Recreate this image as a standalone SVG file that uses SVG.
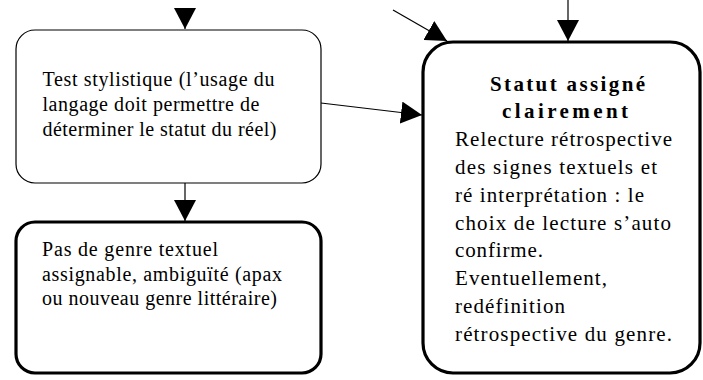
<svg xmlns="http://www.w3.org/2000/svg" width="703" height="380" viewBox="0 0 703 380">
  <defs>
    <marker id="arrow" markerUnits="userSpaceOnUse" markerWidth="21" markerHeight="22" refX="21" refY="11" orient="auto" viewBox="0 0 21 22">
      <path d="M0,0 L21,11 L0,22 z" fill="#000000"/>
    </marker>
  </defs>
  <rect width="703" height="380" fill="#ffffff"/>

  <g id="connectors" stroke="#000000" stroke-width="1.2" fill="none" marker-end="url(#arrow)">
    <line x1="185" y1="8" x2="185" y2="29"/>
    <line x1="185" y1="183" x2="185" y2="221"/>
    <line x1="321" y1="103" x2="422" y2="115"/>
    <line x1="393" y1="10" x2="447" y2="41"/>
    <line x1="568" y1="0" x2="568" y2="41"/>
  </g>

  <g id="node-test">
    <rect x="16" y="30" width="305" height="153" rx="19" ry="19" fill="#ffffff" stroke="#000000" stroke-width="1.2"/>
    <text x="42.5" y="86" style="font-family:'Liberation Serif',Tinos,serif;font-size:20px" textLength="232" lengthAdjust="spacing">Test stylistique (l’usage du</text>
    <text x="42.5" y="111" style="font-family:'Liberation Serif',Tinos,serif;font-size:20px" textLength="217" lengthAdjust="spacing">langage doit permettre de</text>
    <text x="42.5" y="136" style="font-family:'Liberation Serif',Tinos,serif;font-size:20px" textLength="234" lengthAdjust="spacing">déterminer le statut du réel)</text>
  </g>

  <g id="node-pas-de-genre">
    <rect x="16" y="222" width="305" height="151" rx="19" ry="19" fill="#ffffff" stroke="#000000" stroke-width="3.2"/>
    <text x="42" y="256" style="font-family:'Liberation Serif',Tinos,serif;font-size:20px" textLength="176" lengthAdjust="spacing">Pas de genre textuel</text>
    <text x="42" y="280.5" style="font-family:'Liberation Serif',Tinos,serif;font-size:20px" textLength="240" lengthAdjust="spacing">assignable, ambiguïté (apax</text>
    <text x="42" y="305" style="font-family:'Liberation Serif',Tinos,serif;font-size:20px" textLength="235" lengthAdjust="spacing">ou nouveau genre littéraire)</text>
  </g>

  <g id="node-statut">
    <rect x="423" y="42" width="277" height="331" rx="30" ry="30" fill="#ffffff" stroke="#000000" stroke-width="3.2"/>
    <text x="490" y="91" style="font-family:'Liberation Serif',Tinos,serif;font-size:21px;font-weight:bold" textLength="155" lengthAdjust="spacing">Statut assigné</text>
    <text x="502" y="118" style="font-family:'Liberation Serif',Tinos,serif;font-size:21px;font-weight:bold" textLength="126" lengthAdjust="spacing">clairement</text>
    <text x="455" y="146" style="font-family:'Liberation Serif',Tinos,serif;font-size:21px" textLength="217" lengthAdjust="spacing">Relecture rétrospective</text>
    <text x="455" y="174" style="font-family:'Liberation Serif',Tinos,serif;font-size:21px" textLength="202" lengthAdjust="spacing">des signes textuels et</text>
    <text x="455" y="202" style="font-family:'Liberation Serif',Tinos,serif;font-size:21px" textLength="189" lengthAdjust="spacing">ré interprétation : le</text>
    <text x="455" y="229.5" style="font-family:'Liberation Serif',Tinos,serif;font-size:21px" textLength="216" lengthAdjust="spacing">choix de lecture s’auto</text>
    <text x="455" y="257" style="font-family:'Liberation Serif',Tinos,serif;font-size:21px" textLength="88" lengthAdjust="spacing">confirme.</text>
    <text x="455" y="284.5" style="font-family:'Liberation Serif',Tinos,serif;font-size:21px" textLength="152" lengthAdjust="spacing">Eventuellement,</text>
    <text x="455" y="313" style="font-family:'Liberation Serif',Tinos,serif;font-size:21px" textLength="110" lengthAdjust="spacing">redéfinition</text>
    <text x="455" y="341" style="font-family:'Liberation Serif',Tinos,serif;font-size:21px" textLength="217" lengthAdjust="spacing">rétrospective du genre.</text>
  </g>
</svg>
